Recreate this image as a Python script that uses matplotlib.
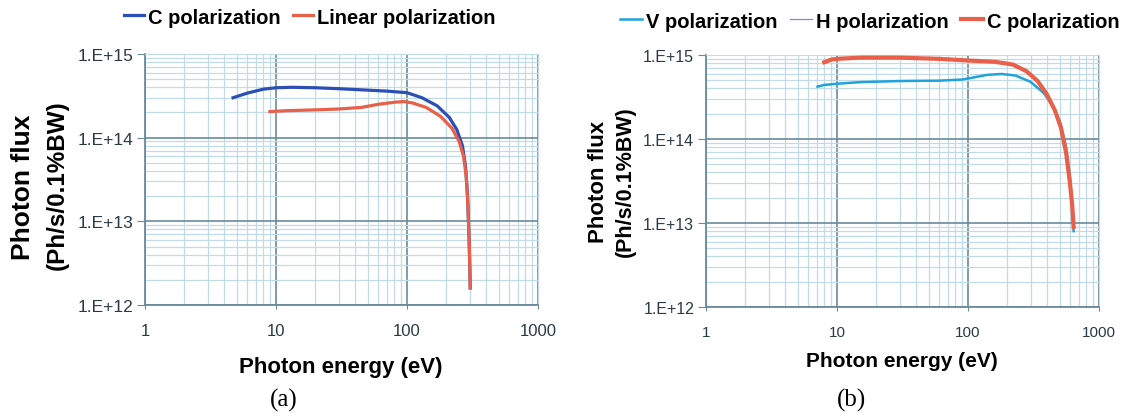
import matplotlib.pyplot as plt
from matplotlib.ticker import LogLocator, FixedLocator, FixedFormatter, NullFormatter

# (a) photon flux vs energy
a_c_energy = [4.7, 6, 8, 10, 13, 20, 30, 50, 70, 100, 130, 170, 210, 240, 265, 280, 290, 298, 304]
a_c_flux = [3.0e14, 3.4e14, 3.8e14, 3.95e14, 4.0e14, 3.95e14, 3.85e14, 3.7e14, 3.6e14, 3.45e14,
            3.0e14, 2.4e14, 1.75e14, 1.25e14, 8.0e13, 4.5e13, 2.0e13, 6.0e12, 1.6e12]
a_lin_energy = [9.0, 12, 20, 30, 45, 60, 80, 95, 110, 140, 180, 220, 250, 270, 283, 292, 298, 302, 304]
a_lin_flux = [2.05e14, 2.1e14, 2.15e14, 2.2e14, 2.3e14, 2.5e14, 2.65e14, 2.7e14, 2.6e14, 2.3e14,
              1.8e14, 1.3e14, 9.0e13, 6.0e13, 3.5e13, 1.5e13, 6.0e12, 2.8e12, 1.6e12]

# (b)
b_v_energy = [7.1, 8, 10, 15, 30, 60, 90, 110, 140, 180, 230, 300, 380, 450, 510, 560, 600, 625, 640]
b_v_flux = [4.2e14, 4.4e14, 4.55e14, 4.75e14, 4.9e14, 4.95e14, 5.1e14, 5.4e14, 5.8e14, 5.95e14,
            5.7e14, 4.8e14, 3.5e14, 2.4e14, 1.5e14, 8.0e13, 3.5e13, 1.6e13, 8.0e12]
b_h_energy = [8.0, 10, 15, 30, 60, 100, 160, 220, 280, 340, 400, 460, 510, 560, 600, 625, 640]
b_h_flux = [8.3e14, 8.9e14, 9.2e14, 9.2e14, 8.9e14, 8.6e14, 8.3e14, 7.6e14, 6.3e14, 4.8e14,
            3.3e14, 2.1e14, 1.3e14, 7.0e13, 3.2e13, 1.6e13, 9.0e12]
b_c_energy = [8.0, 9, 10, 15, 30, 60, 100, 160, 220, 280, 340, 400, 460, 510, 560, 600, 625, 640]
b_c_flux = [8.2e14, 8.8e14, 9.0e14, 9.3e14, 9.3e14, 9.0e14, 8.6e14, 8.3e14, 7.7e14, 6.4e14,
            4.9e14, 3.4e14, 2.2e14, 1.4e14, 7.0e13, 3.0e13, 1.6e13, 9.0e12]

x_ticks = [1, 10, 100, 1000]
x_labels = ["1", "10", "100", "1000"]
y_ticks = [1e12, 1e13, 1e14, 1e15]
y_labels = ["1.E+12", "1.E+13", "1.E+14", "1.E+15"]

MAJOR = "#6a8a9c"
MINOR = "#c2dbe7"
SANS = "Liberation Sans"
W, H = 1124, 414


def fx(px):
    return px / W


def fy(py):
    return 1 - py / H


def style_axes(ax, xsize, ysize):
    ax.set_xscale("log")
    ax.set_yscale("log")
    ax.set_xlim(1, 1000)
    ax.set_ylim(1e12, 1e15)
    ax.xaxis.set_major_locator(FixedLocator(x_ticks))
    ax.xaxis.set_major_formatter(FixedFormatter(x_labels))
    ax.yaxis.set_major_locator(FixedLocator(y_ticks))
    ax.yaxis.set_major_formatter(FixedFormatter(y_labels))
    ax.xaxis.set_minor_locator(LogLocator(base=10, subs=range(2, 10)))
    ax.yaxis.set_minor_locator(LogLocator(base=10, subs=range(2, 10)))
    ax.xaxis.set_minor_formatter(NullFormatter())
    ax.yaxis.set_minor_formatter(NullFormatter())
    ax.grid(which="minor", color=MINOR, lw=0.9)
    ax.grid(which="major", color=MAJOR, lw=1.2)
    ax.set_axisbelow(True)
    ax.tick_params(which="minor", length=0)
    ax.tick_params(axis="y", which="major", length=5.5, direction="out", color=MAJOR,
                   labelsize=ysize, pad=3)
    ax.tick_params(axis="x", which="major", length=3, direction="out", color=MAJOR,
                   labelsize=xsize, pad=10)
    for lab in ax.get_xticklabels() + ax.get_yticklabels():
        lab.set_family(SANS)
        lab.set_color("#2a3a44")
    for s in ["left", "bottom"]:
        ax.spines[s].set_color(MAJOR)
        ax.spines[s].set_linewidth(1.3)
    for s in ["top", "right"]:
        ax.spines[s].set_color(MINOR)


fig = plt.figure(figsize=(W / 100, H / 100), dpi=100)
ax1 = fig.add_axes([fx(145), fy(306), 393 / W, 251 / H])
ax2 = fig.add_axes([fx(706), fy(308), 393 / W, 252 / H])

ax1.plot(a_c_energy, a_c_flux, color="#2b4fb5", lw=2.3, label="C polarization")
ax1.plot(a_lin_energy, a_lin_flux, color="#e8604a", lw=2.3, label="Linear polarization")
style_axes(ax1, 12, 12.5)
ax1.legend(loc="center", bbox_to_anchor=(fx(310), fy(18)), bbox_transform=fig.transFigure,
           ncol=2, frameon=False, handlelength=1.0, handletextpad=0.2, columnspacing=0.6,
           borderaxespad=0, borderpad=0, prop={"family": SANS, "weight": "bold", "size": 14.5})

ax2.plot(b_v_energy, b_v_flux, color="#1fa3dc", lw=1.8, label="V polarization")
ax2.plot(b_h_energy, b_h_flux, color="#8e7fd0", lw=0.9, label="H polarization")
ax2.plot(b_c_energy, b_c_flux, color="#e8604a", lw=3.0, label="C polarization", zorder=3)
style_axes(ax2, 11, 11.5)
ax2.legend(loc="center", bbox_to_anchor=(fx(870), fy(22)), bbox_transform=fig.transFigure,
           ncol=3, frameon=False, handlelength=1.1, handletextpad=0.2, columnspacing=0.6,
           borderaxespad=0, borderpad=0, prop={"family": SANS, "weight": "bold", "size": 14.5})

# axis titles
fig.text(fx(341), fy(367), "Photon energy (eV)", family=SANS, fontweight="bold", fontsize=16,
         ha="center", va="center")
fig.text(fx(902), fy(362), "Photon energy (eV)", family=SANS, fontweight="bold", fontsize=15,
         ha="center", va="center")
fig.text(fx(23), fy(187), "Photon flux", family=SANS, fontweight="bold", fontsize=19,
         rotation=90, ha="center", va="center")
fig.text(fx(57), fy(185), "(Ph/s/0.1%BW)", family=SANS, fontweight="bold", fontsize=17.5,
         rotation=90, ha="center", va="center")
fig.text(fx(598), fy(182), "Photon flux", family=SANS, fontweight="bold", fontsize=16,
         rotation=90, ha="center", va="center")
fig.text(fx(625), fy(182), "(Ph/s/0.1%BW)", family=SANS, fontweight="bold", fontsize=15.5,
         rotation=90, ha="center", va="center")

fig.text(fx(284), fy(400), "(a)", family="Liberation Serif", fontsize=18,
         ha="center", va="center")
fig.text(fx(852), fy(400), "(b)", family="Liberation Serif", fontsize=18,
         ha="center", va="center")

fig.savefig("out.png", dpi=100)
